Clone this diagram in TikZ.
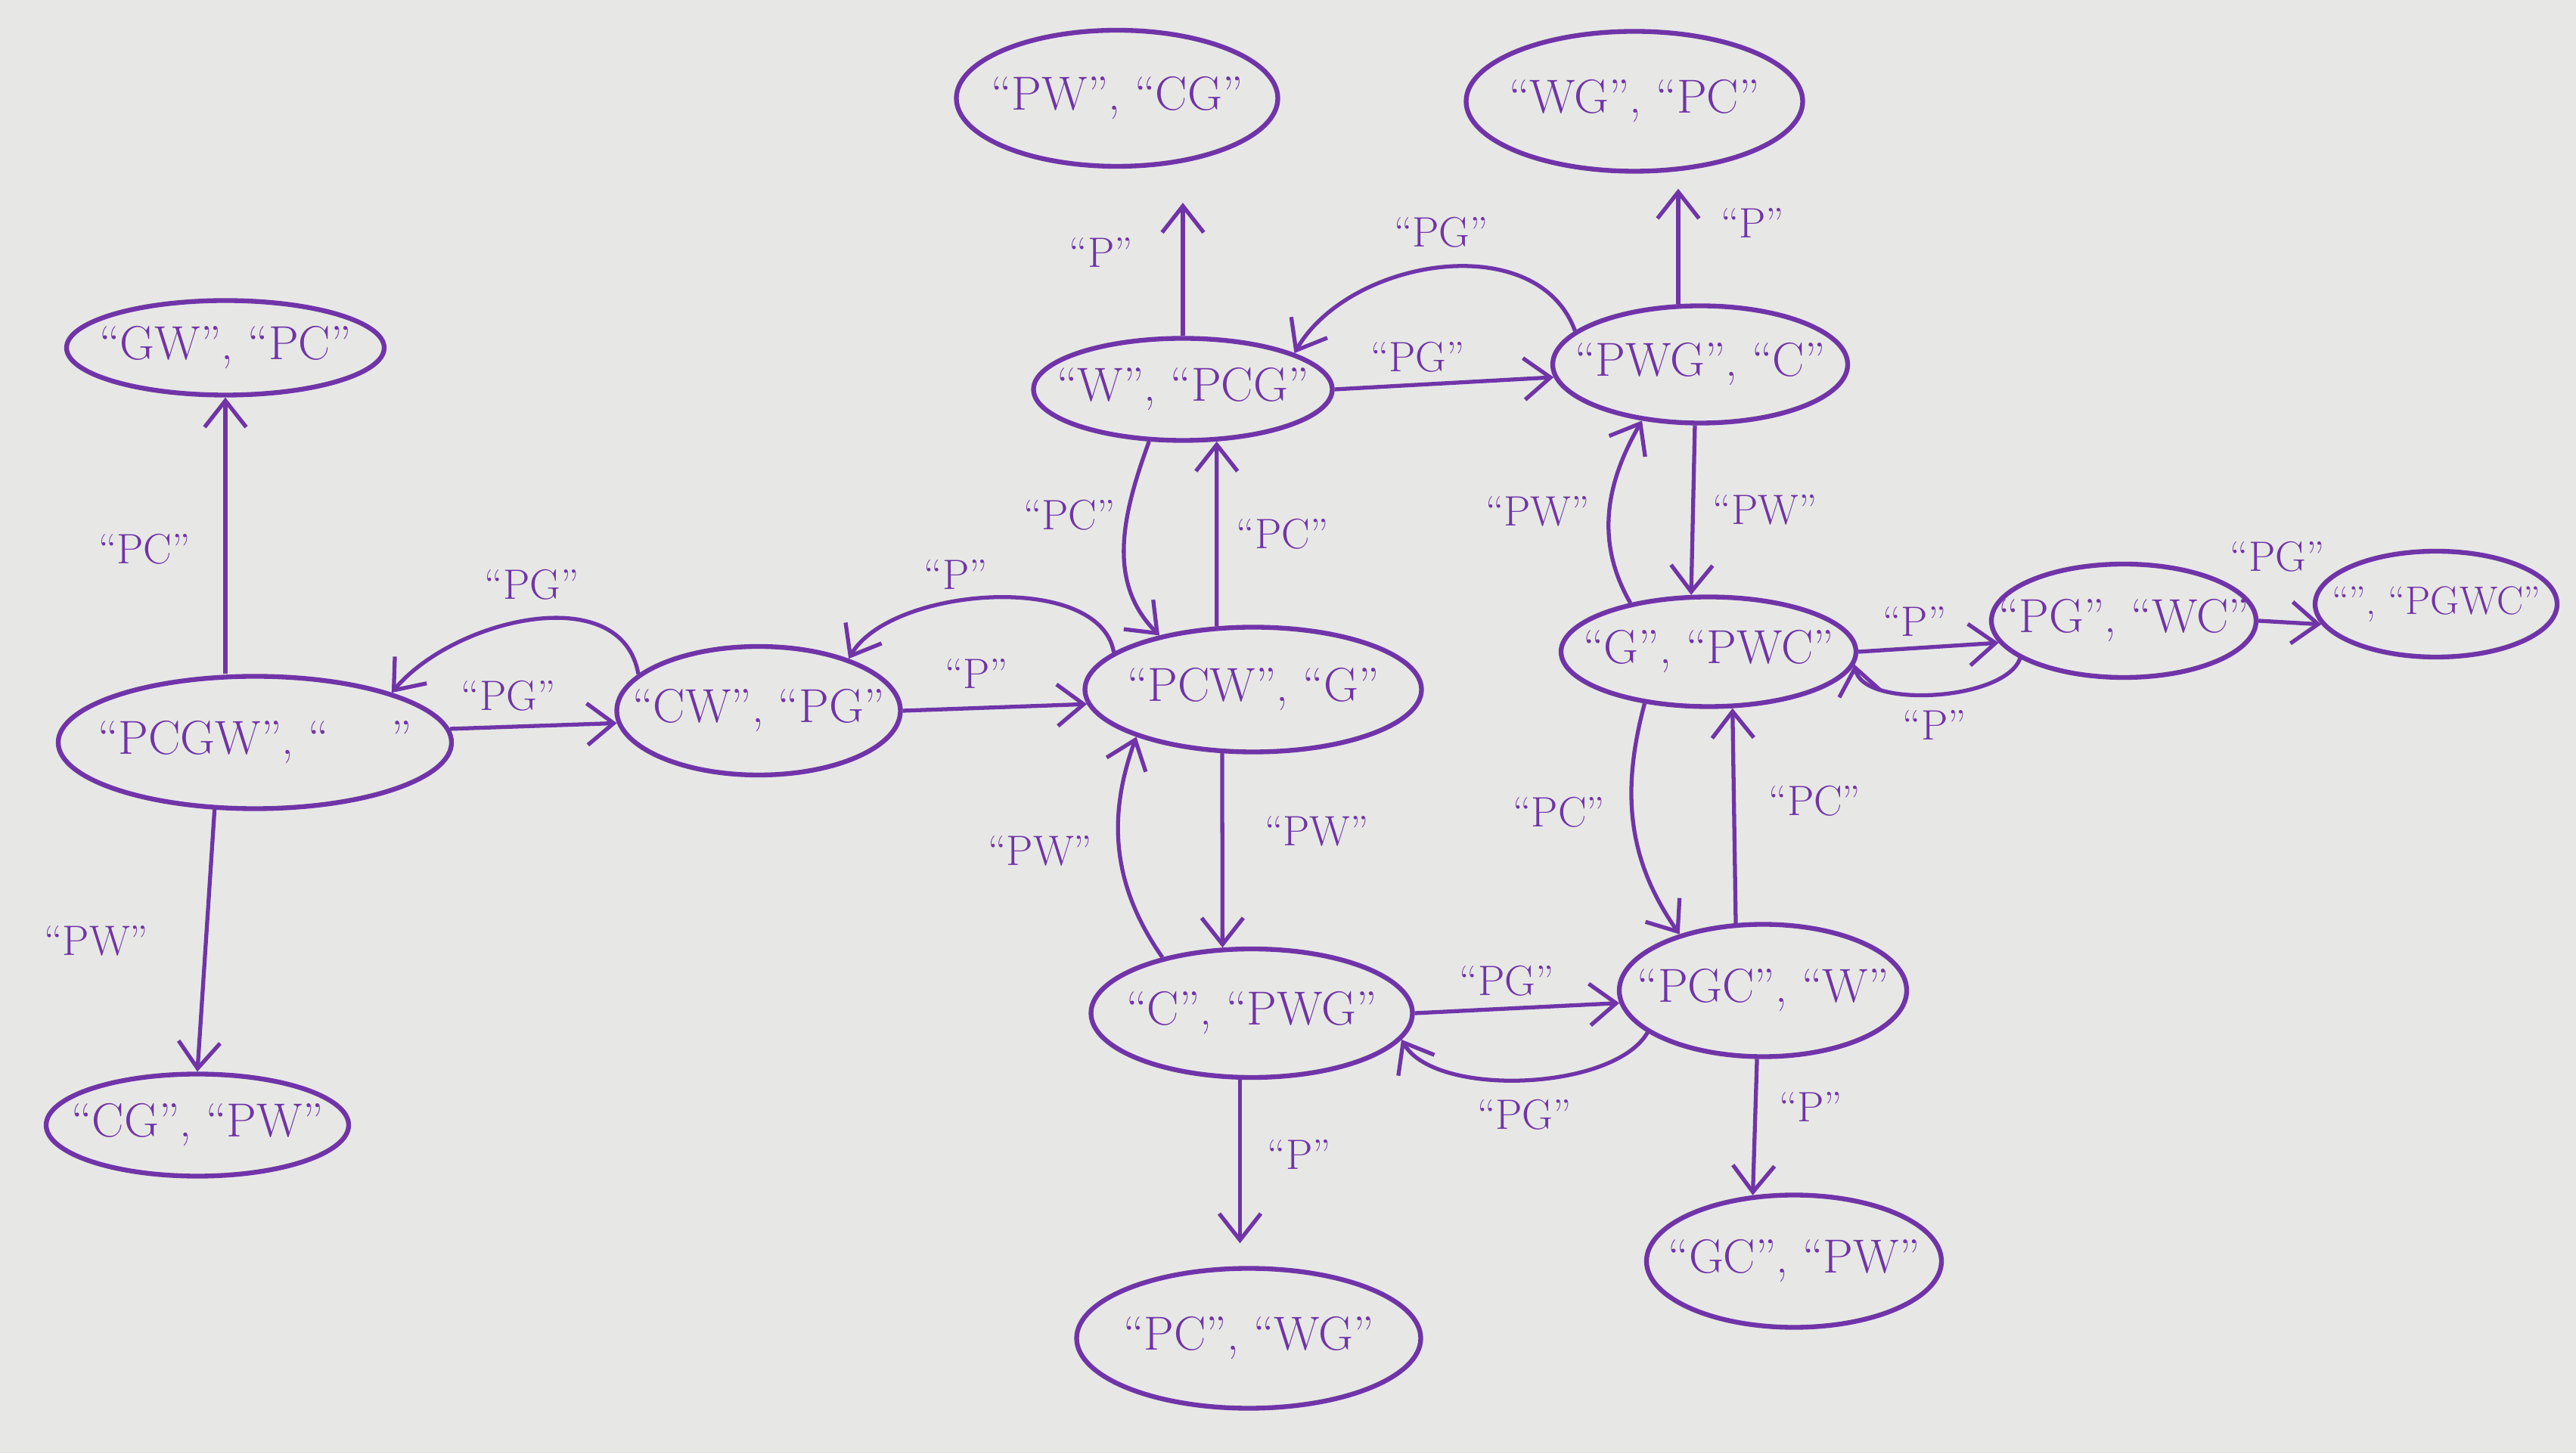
\documentclass[tikz,border=0pt]{standalone}
\usepackage{fontspec}
\usetikzlibrary{shapes.geometric,arrows.meta}
\definecolor{ink}{RGB}{112,52,168}
\definecolor{paper}{RGB}{231,232,229}

\begin{document}
\begin{tikzpicture}[
    state/.style={ellipse, draw=ink, line width=1.8pt, text=ink, inner xsep=-1cm, inner ysep=-0.2cm, font=\fontsize{18}{22}\selectfont},
    move/.style={draw=ink, line width=1.5pt, -{Straight Barb[length=3.5mm,width=5.5mm]}},
    lbl/.style={text=ink, font=\fontsize{16}{20}\selectfont, inner sep=1pt}
]

\fill[paper] (0,0) rectangle (34.06,19.22);

% states: left bank, right bank
\node[state, minimum width=4.2cm, minimum height=1.25cm] (gw) at (2.98,14.62) {“GW”, “PC”};
\node[state, minimum width=5.2cm, minimum height=1.75cm] (pcgw) at (3.37,9.40) {“PCGW”, “\quad\ ”};
\node[state, minimum width=4.0cm, minimum height=1.35cm] (cg) at (2.61,4.34) {“CG”, “PW”};
\node[state, minimum width=3.75cm, minimum height=1.7cm] (cw) at (10.03,9.82) {“CW”, “PG”};
\node[state, minimum width=4.45cm, minimum height=1.65cm] (pcw) at (16.57,10.10) {“PCW”, “G”};
\node[state, minimum width=3.95cm, minimum height=1.35cm] (w) at (15.64,14.07) {“W”, “PCG”};
\node[state, minimum width=4.25cm, minimum height=1.8cm] (pw) at (14.77,17.92) {“PW”, “CG”};
\node[state, minimum width=4.45cm, minimum height=1.85cm] (wg) at (21.61,17.88) {“WG”, “PC”};
\node[state, minimum width=3.9cm, minimum height=1.55cm] (pwg) at (22.48,14.40) {“PWG”, “C”};
\node[state, minimum width=3.9cm, minimum height=1.45cm] (g) at (22.59,10.60) {“G”, “PWC”};
\node[state, minimum width=3.5cm, minimum height=1.5cm] (pg) at (28.08,11.01) {“PG”, “WC”};
\node[state, minimum width=3.2cm, minimum height=1.4cm, font=\fontsize{15}{18}\selectfont] (none) at (32.21,11.23) {“”, “PGWC”};
\node[state, minimum width=4.25cm, minimum height=1.7cm] (c) at (16.55,5.82) {“C”, “PWG”};
\node[state, minimum width=3.8cm, minimum height=1.75cm] (pgc) at (23.31,6.12) {“PGC”, “W”};
\node[state, minimum width=3.9cm, minimum height=1.75cm] (gc) at (23.72,2.54) {“GC”, “PW”};
\node[state, minimum width=4.55cm, minimum height=1.85cm] (pc) at (16.51,1.52) {“PC”, “WG”};

% crossings
\draw[move] (pcgw.north -| gw.south) -- node[lbl, left=4mm, pos=0.45] (a1) {“PC”} (gw.south);
\draw[move] (pcgw.239) -- node[lbl, left=7mm] (a2) {“PW”} (cg.north);
\draw[move] (pcgw.4) -- node[lbl, above=1.5mm, pos=0.35] (a3) {“PG”} (cw.185);
\draw[move] (cw.163) to[out=100,in=50] node[lbl, above=2mm] (a4) {“PG”} (pcgw.20);
\draw[move] (cw.east) -- node[lbl, above=2mm, pos=0.4] (a5) {“P”} (pcw.185);
\draw[move] (pcw.165) to[out=100,in=60,looseness=0.8] node[lbl, above=1mm, pos=0.6] (a6) {“P”} (cw.30);
\draw[move] (pcw.120) -- node[lbl, right=2mm] (a7) {“PC”} (w.303);
\draw[move] (w.237) to[out=250,in=135] node[lbl, left=1mm, pos=0.35] (a8) {“PC”} (pcw.150);
\draw[move, shorten >=4.5mm] (w.north) -- node[lbl, left=6mm] (a9) {“P”} (w.north |- pw.south);
\draw[move] (w.east) -- node[lbl, above=1mm, pos=0.38] (a10) {“PG”} (pwg.185);
\draw[move] (pwg.165) to[out=110,in=60] node[lbl, above=2mm] (a11) {“PG”} (w.18);
\draw[move, shorten >=2mm] (pwg.110) -- node[lbl, right=5mm, pos=0.62] (a12) {“P”} (pwg.110 |- wg.south);
\draw[move] (pwg.265) -- node[lbl, right=2mm] (a13) {“PW”} (g.107);
\draw[move] (g.148) to[out=120,in=240] node[lbl, left=2mm] (a14) {“PW”} (pwg.224);
\draw[move] (g.east) -- node[lbl, above=1mm, pos=0.4] (a15) {“P”} (pg.190);
\draw[move] (pg.200) to[out=250,in=280,looseness=0.7] node[lbl, below=1.5mm] (a16) {“P”} (g.355);
\draw[move] (pg.east) -- node[lbl, above=6mm, pos=0.3] (a17) {“PG”} (none.190);
\draw[move] (pcw.244) -- node[lbl, right=5mm, pos=0.4] (a18) {“PW”} (c.114);
\draw[move] (c.148) to[out=125,in=250] node[lbl, left=3mm] (a19) {“PW”} (pcw.202);
\draw[move] (c.east) -- node[lbl, above=1mm, pos=0.45] (a20) {“PG”} (pgc.185);
\draw[move] (pgc.200) to[out=240,in=300,looseness=0.7] node[lbl, below=2mm] (a21) {“PG”} (c.350);
\draw[move] (pgc.112) -- node[lbl, right=4mm, pos=0.57] (a22) {“PC”} (g.293);
\draw[move] (g.219) to[out=255,in=125] node[lbl, left=3mm, pos=0.45] (a23) {“PC”} (pgc.146);
\draw[move] (pgc.265) -- node[lbl, right=2.5mm, pos=0.35] (a24) {“P”} (gc.122);
\draw[move, shorten >=3mm] (c.260) -- node[lbl, right=3mm, pos=0.4] (a25) {“P”} (c.260 |- pc.north);

\end{tikzpicture}
\end{document}
